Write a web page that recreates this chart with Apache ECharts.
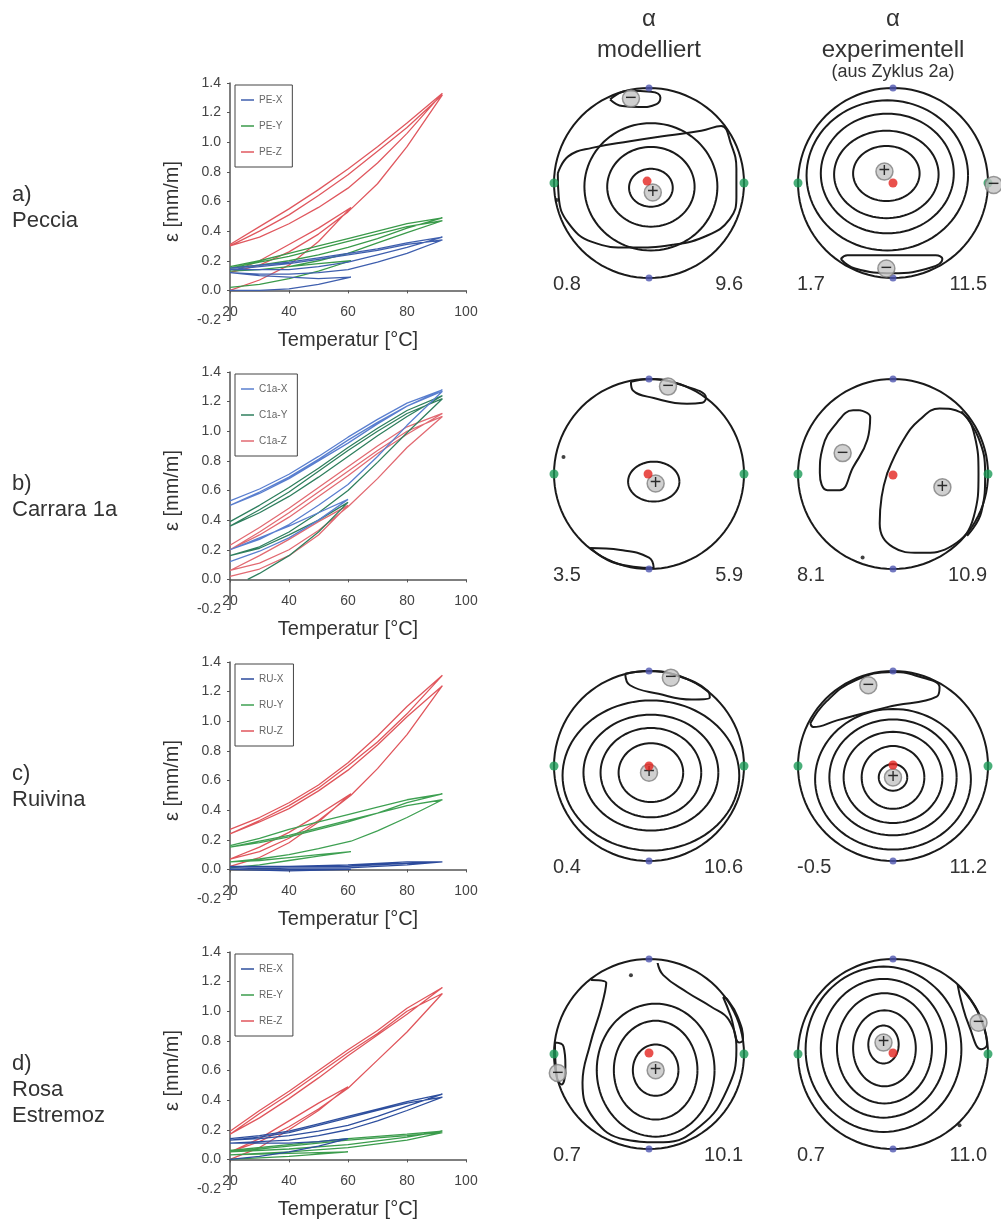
<!DOCTYPE html>
<html>
<head>
<meta charset="utf-8">
<script src="https://cdn.jsdelivr.net/npm/echarts@6.0.0/dist/echarts.min.js"></script>
<style>
html, body { margin: 0; padding: 0; background: #fff; }
#main { width: 1001px; height: 1223px; }
</style>
</head>
<body>
<div id="main"></div>
<script>
// 坐标轴刻度
var tempTicks = [20, 100, 20];      // min, max, interval
var epsTicks = [-0.2, 1.4, 0.2];

// 样品名称
var rowLabels = ['a)\nPeccia', 'b)\nCarrara 1a', 'c)\nRuivina', 'd)\nRosa\nEstremoz'];
var lineNames = [
    ['PE-X', 'PE-Y', 'PE-Z'],
    ['C1a-X', 'C1a-Y', 'C1a-Z'],
    ['RU-X', 'RU-Y', 'RU-Z'],
    ['RE-X', 'RE-Y', 'RE-Z']
];

// a) Peccia  [温度, 应变]
var peX = [
    [20,0.00],[30,0.00],[40,0.01],[50,0.04],[61,0.09],
    [50,0.08],[40,0.09],[30,0.10],[20,0.12],
    [30,0.11],[40,0.11],[50,0.12],[60,0.14],[70,0.19],[80,0.25],[92,0.34],
    [80,0.31],[70,0.27],[60,0.24],[50,0.21],[40,0.18],[30,0.16],[20,0.14],
    [30,0.14],[40,0.14],[50,0.16],[60,0.19],[70,0.24],[80,0.29],[92,0.36],
    [80,0.32],[70,0.28],[60,0.25],[50,0.22],[40,0.19],[30,0.17],[20,0.15]
];
var peY = [
    [20,0.02],[30,0.04],[40,0.08],[50,0.13],[61,0.20],
    [50,0.18],[40,0.16],[30,0.14],[20,0.13],
    [30,0.14],[40,0.16],[50,0.20],[60,0.25],[70,0.32],[80,0.39],[92,0.47],
    [80,0.43],[70,0.38],[60,0.33],[50,0.28],[40,0.23],[30,0.19],[20,0.15],
    [30,0.17],[40,0.20],[50,0.24],[60,0.29],[70,0.35],[80,0.42],[92,0.49],
    [80,0.45],[70,0.40],[60,0.35],[50,0.30],[40,0.25],[30,0.20],[20,0.16]
];
var peZ = [
    [20,0.00],[30,0.07],[40,0.17],[50,0.33],[61,0.56],
    [50,0.42],[40,0.31],[30,0.20],[20,0.12],
    [30,0.17],[40,0.26],[50,0.38],[60,0.53],[70,0.72],[80,0.97],[92,1.32],
    [80,1.10],[70,0.94],[60,0.78],[50,0.64],[40,0.51],[30,0.40],[20,0.30],
    [30,0.36],[40,0.45],[50,0.56],[60,0.69],[70,0.86],[80,1.06],[92,1.33],
    [80,1.13],[70,0.97],[60,0.82],[50,0.68],[40,0.55],[30,0.43],[20,0.31]
];

// b) Carrara 1a
var c1aX = [
    [20,0.12],[30,0.19],[40,0.28],[50,0.40],[60,0.54],
    [50,0.45],[40,0.36],[30,0.28],[20,0.20],
    [30,0.27],[40,0.37],[50,0.50],[60,0.64],[70,0.83],[80,1.04],[92,1.27],
    [80,1.17],[70,1.05],[60,0.92],[50,0.80],[40,0.68],[30,0.58],[20,0.50],
    [30,0.59],[40,0.69],[50,0.81],[60,0.94],[70,1.06],[80,1.17],[92,1.28],
    [80,1.19],[70,1.08],[60,0.96],[50,0.83],[40,0.71],[30,0.61],[20,0.53]
];
var c1aY = [
    [26,0.00],[30,0.04],[40,0.16],[50,0.32],[60,0.52],
    [50,0.40],[40,0.30],[30,0.21],[20,0.16],
    [30,0.22],[40,0.32],[50,0.45],[60,0.60],[70,0.79],[80,0.99],[92,1.22],
    [80,1.12],[70,1.00],[60,0.87],[50,0.73],[40,0.59],[30,0.47],[20,0.36],
    [30,0.45],[40,0.56],[50,0.69],[60,0.83],[70,0.97],[80,1.10],[92,1.24],
    [80,1.14],[70,1.02],[60,0.89],[50,0.75],[40,0.62],[30,0.50],[20,0.39]
];
var c1aZ = [
    [20,0.02],[30,0.07],[40,0.16],[50,0.30],[60,0.50],
    [50,0.39],[40,0.27],[30,0.16],[20,0.06],
    [30,0.11],[40,0.20],[50,0.33],[60,0.49],[70,0.68],[80,0.89],[92,1.10],
    [80,1.00],[70,0.87],[60,0.73],[50,0.59],[40,0.45],[30,0.32],[20,0.20],
    [30,0.30],[40,0.42],[50,0.56],[60,0.70],[70,0.85],[80,0.98],[92,1.12],
    [80,1.03],[70,0.90],[60,0.76],[50,0.62],[40,0.48],[30,0.35],[20,0.23]
];

// c) Ruivina
var ruX = [
    [20,0.00],[40,-0.01],[61,0.00],
    [40,0.00],[20,0.01],
    [40,0.01],[60,0.01],[80,0.03],[92,0.05],
    [80,0.04],[60,0.03],[40,0.02],[20,0.02],
    [40,0.02],[60,0.02],[80,0.04],[92,0.05],
    [80,0.05],[60,0.03],[40,0.02],[20,0.02]
];
var ruY = [
    [20,0.01],[30,0.03],[40,0.06],[50,0.09],[61,0.12],
    [50,0.10],[40,0.08],[30,0.06],[20,0.05],
    [30,0.07],[40,0.10],[50,0.14],[61,0.19],[70,0.26],[80,0.35],[92,0.47],
    [80,0.43],[70,0.38],[60,0.33],[50,0.28],[40,0.23],[30,0.19],[20,0.15],
    [30,0.18],[40,0.22],[50,0.27],[60,0.32],[70,0.38],[80,0.45],[92,0.51],
    [80,0.47],[70,0.42],[60,0.37],[50,0.32],[40,0.27],[30,0.21],[20,0.16]
];
var ruZ = [
    [20,0.02],[30,0.08],[40,0.18],[50,0.32],[61,0.51],
    [50,0.37],[40,0.25],[30,0.15],[20,0.07],
    [30,0.12],[40,0.21],[50,0.33],[61,0.50],[70,0.68],[80,0.91],[92,1.24],
    [80,1.03],[70,0.84],[60,0.67],[50,0.53],[40,0.41],[30,0.32],[20,0.24],
    [30,0.33],[40,0.43],[50,0.55],[60,0.70],[70,0.86],[80,1.05],[92,1.31],
    [80,1.10],[70,0.90],[60,0.72],[50,0.57],[40,0.45],[30,0.35],[20,0.27]
];

// d) Rosa Estremoz
var reX = [
    [20,0.00],[30,0.02],[40,0.05],[50,0.09],[60,0.14],
    [50,0.12],[40,0.11],[30,0.11],[20,0.11],
    [30,0.12],[40,0.13],[50,0.16],[60,0.20],[70,0.26],[80,0.33],[92,0.42],
    [80,0.38],[70,0.33],[60,0.28],[50,0.23],[40,0.18],[30,0.15],[20,0.13],
    [30,0.14],[40,0.16],[50,0.19],[60,0.23],[70,0.29],[80,0.36],[92,0.44],
    [80,0.39],[70,0.34],[60,0.29],[50,0.24],[40,0.19],[30,0.16],[20,0.14]
];
var reY = [
    [20,0.00],[40,0.02],[60,0.05],
    [40,0.04],[20,0.03],
    [40,0.05],[60,0.08],[80,0.13],[92,0.18],
    [80,0.16],[60,0.13],[40,0.09],[20,0.05],
    [40,0.07],[60,0.10],[80,0.15],[92,0.19],
    [80,0.17],[60,0.14],[40,0.10],[20,0.06]
];
var reZ = [
    [20,0.00],[30,0.08],[40,0.20],[50,0.33],[60,0.49],
    [50,0.38],[40,0.26],[30,0.14],[20,0.05],
    [30,0.12],[40,0.22],[50,0.34],[60,0.48],[70,0.67],[80,0.86],[92,1.12],
    [80,1.00],[70,0.85],[60,0.72],[50,0.58],[40,0.44],[30,0.31],[20,0.17],
    [30,0.28],[40,0.41],[50,0.55],[60,0.70],[70,0.84],[80,0.98],[92,1.16],
    [80,1.02],[70,0.87],[60,0.74],[50,0.60],[40,0.46],[30,0.33],[20,0.19]
];

var lineSets = [[peX, peY, peZ], [c1aX, c1aY, c1aZ], [ruX, ruY, ruZ], [reX, reY, reZ]];

// 极图：顺序 a-mod, a-exp, b-mod, b-exp, c-mod, c-exp, d-mod, d-exp（单位圆坐标）
var netRange = [[0.8, 9.6], [1.7, 11.5], [3.5, 5.9], [8.1, 10.9], [0.4, 10.6], [-0.5, 11.2], [0.7, 10.1], [0.7, 11.0]];
var netPolesBlue = [[0, 1], [0, -1]];
var netPolesGreen = [[-1, 0], [1, 0]];
// 等值线椭圆 [cx, cy, rx, ry]
var netRings = [
    [[0.02,-0.05,0.23,0.20],[0.02,-0.04,0.46,0.42],[0.02,-0.04,0.70,0.67]],
    [[-0.07,0.10,0.35,0.29],[-0.07,0.09,0.55,0.46],[-0.06,0.10,0.70,0.63],[-0.06,0.08,0.85,0.79]],
    [[0.05,-0.08,0.27,0.21]],
    [],
    [[0.02,-0.07,0.34,0.31],[0.02,-0.07,0.53,0.47],[0.02,-0.07,0.71,0.61],[0.02,-0.10,0.93,0.79]],
    [[0,-0.12,0.15,0.14],[0,-0.12,0.33,0.33],[0,-0.12,0.52,0.48],[0,-0.12,0.67,0.61],[0,-0.14,0.82,0.74]],
    [[0.07,-0.17,0.24,0.27],[0.07,-0.17,0.44,0.52],[0.07,-0.17,0.62,0.70]],
    [[-0.10,0.10,0.16,0.20],[-0.09,0.06,0.33,0.40],[-0.09,0.06,0.50,0.58],[-0.10,0.06,0.66,0.73],[-0.10,0.05,0.82,0.87]]
];
// 不规则等值线（折线）
var netLoops = [
    [
        [[-0.96,0.1],[-0.85,0.28],[-0.6,0.37],[-0.2,0.44],[0.2,0.5],[0.55,0.55],[0.76,0.6],[0.86,0.42],[0.92,0.15],[0.92,-0.15],[0.85,-0.38],[0.62,-0.55],[0.25,-0.65],[-0.2,-0.68],[-0.6,-0.62],[-0.85,-0.42],[-0.95,-0.15],[-0.96,0.1]],
        [[-0.41,0.88],[-0.28,0.81],[-0.1,0.8],[0.08,0.83],[0.12,0.9],[0.02,0.96],[-0.22,0.97],[-0.41,0.88]]
    ],
    [
        [[-0.55,-0.8],[-0.48,-0.76],[0,-0.76],[0.45,-0.76],[0.52,-0.8],[0.4,-0.89],[0,-0.95],[-0.4,-0.9],[-0.55,-0.8]]
    ],
    [
        [[-0.19,0.97],[-0.17,0.88],[0.05,0.8],[0.4,0.74],[0.56,0.75],[0.6,0.8],[0.3,0.95],[0,1.0],[-0.19,0.97]],
        [[-0.62,-0.78],[-0.3,-0.8],[0.0,-0.88],[0.05,-0.99],[-0.35,-0.94],[-0.62,-0.78]]
    ],
    [
        [[-0.35,0.67],[-0.24,0.6],[-0.27,0.36],[-0.42,0.07],[-0.56,-0.17],[-0.69,-0.17],[-0.77,0.01],[-0.74,0.28],[-0.59,0.54],[-0.42,0.67],[-0.35,0.67]],
        [[-0.06,0.01],[0.11,0.36],[0.28,0.57],[0.49,0.69],[0.71,0.65],[0.86,0.4],[0.9,0.0],[0.85,-0.45],[0.63,-0.75],[0.28,-0.83],[0.0,-0.77],[-0.14,-0.52],[-0.12,-0.24],[-0.06,0.01]],
        [[0.72,0.66],[0.9,0.38],[0.97,0.0],[0.93,-0.4],[0.78,-0.65]]
    ],
    [
        [[-0.25,0.97],[-0.2,0.85],[0.1,0.76],[0.45,0.7],[0.64,0.72],[0.62,0.79],[0.3,0.95],[0,1],[-0.25,0.97]]
    ],
    [
        [[-0.87,0.45],[-0.84,0.41],[-0.59,0.48],[-0.06,0.62],[0.46,0.73],[0.49,0.83],[0.28,0.94],[0,0.99],[-0.4,0.9],[-0.7,0.68],[-0.87,0.45]]
    ],
    [
        [[-0.61,0.78],[-0.45,0.75],[-0.5,0.5],[-0.62,0.1],[-0.7,-0.3],[-0.58,-0.68],[-0.25,-0.9],[0.15,-0.93],[0.55,-0.75],[0.82,-0.38],[0.92,0.05],[0.84,0.36],[0.65,0.5],[0.4,0.65],[0.15,0.83],[0.09,0.96]],
        [[0.78,0.6],[0.86,0.4],[0.95,0.12],[0.99,0.15],[0.93,0.4],[0.82,0.58],[0.78,0.6]],
        [[-0.99,0.12],[-0.9,0.08],[-0.88,-0.12],[-0.92,-0.32],[-0.97,-0.25],[-0.99,0.12]]
    ],
    [
        [[0.68,0.73],[0.72,0.55],[0.8,0.3],[0.93,0.05],[0.99,0.1],[0.95,0.3],[0.85,0.52],[0.68,0.73]]
    ]
];
var netRed = [[[-0.02,0.02]], [[0,0]], [[-0.01,0]], [[0,-0.01]], [[0,0]], [[0,0.01]], [[0,0.01]], [[0,0.01]]];
var netBlack = [[[-0.97,-0.18]], [], [[-0.9,0.18]], [[-0.32,-0.88]], [], [], [[-0.19,0.83]], [[0.7,-0.75]]];
// 灰色标记 [x, y, 符号]
var netMarks = [
    [[0.04,-0.1,'+'],[-0.19,0.89,'-']],
    [[-0.09,0.12,'+'],[-0.07,-0.9,'-'],[1.06,-0.02,'-']],
    [[0.07,-0.1,'+'],[0.2,0.92,'-']],
    [[0.52,-0.14,'+'],[-0.53,0.22,'-']],
    [[0,-0.07,'+'],[0.23,0.93,'-']],
    [[0,-0.12,'+'],[-0.26,0.85,'-']],
    [[0.07,-0.17,'+'],[-0.96,-0.2,'-']],
    [[-0.1,0.12,'+'],[0.9,0.33,'-']]
];

// 布局
var chartTops = [83, 372, 662, 952];
var chartLeft = 230, chartW = 236, chartH = 237;
var netCx = [649, 893];
var netCy = [183, 474, 766, 1054];
var netR = 95;
var lineColors = [
    ['#3f5fae', '#3a9a4a', '#e0585f'],
    ['#5a7fcf', '#2f7f5e', '#e26a72'],
    ['#2b4a9c', '#3ea052', '#e0565c'],
    ['#2e4f9e', '#3b9c4c', '#e0565c']
];
var inkColor = '#1a1a1a';
var fontName = '"Liberation Sans", Arial, sans-serif';

var chartDom = document.getElementById('main');
var myChart = echarts.init(chartDom);

var grids = [], xAxes = [], yAxes = [], legends = [], series = [], texts = [];

// 左侧热膨胀曲线
lineSets.forEach(function(set, i) {
    grids.push({ left: chartLeft, top: chartTops[i], width: chartW, height: chartH, outerBoundsMode: 'none' });
    xAxes.push({
        gridIndex: i, type: 'value', min: tempTicks[0], max: tempTicks[1], interval: tempTicks[2],
        name: 'Temperatur [°C]', nameLocation: 'middle', nameGap: 10,
        nameTextStyle: { fontSize: 20, color: '#333', fontFamily: fontName },
        axisLine: { onZero: true, lineStyle: { color: '#555', width: 1.5 } },
        axisTick: { show: true, length: 3, lineStyle: { color: '#555' } },
        axisLabel: { fontSize: 14, color: '#444', margin: -15, fontFamily: fontName },
        splitLine: { show: false }
    });
    yAxes.push({
        gridIndex: i, type: 'value', min: epsTicks[0], max: epsTicks[1], interval: epsTicks[2],
        name: 'ε [mm/m]', nameLocation: 'middle', nameGap: 48,
        nameTextStyle: { fontSize: 20, color: '#333', fontFamily: fontName },
        axisLine: { show: true, lineStyle: { color: '#555', width: 1.5 } },
        axisTick: { show: true, length: 3, lineStyle: { color: '#555' } },
        axisLabel: { fontSize: 14, color: '#444', margin: 9, fontFamily: fontName,
            formatter: function(v) { return v.toFixed(1); } },
        splitLine: { show: false }
    });
    legends.push({
        orient: 'vertical', left: chartLeft + 5, top: chartTops[i] + 2,
        data: lineNames[i], icon: 'rect', itemWidth: 13, itemHeight: 1.5, itemGap: 16,
        padding: [10, 10, 10, 6], borderColor: '#444', borderWidth: 1,
        textStyle: { fontSize: 10, color: '#666', fontFamily: fontName },
        selectedMode: false
    });
    set.forEach(function(data, j) {
        series.push({
            name: lineNames[i][j], type: 'line', xAxisIndex: i, yAxisIndex: i,
            data: data, symbol: 'none', color: lineColors[i][j],
            lineStyle: { width: 1.3, color: lineColors[i][j] }, z: 3 - j
        });
    });
    texts.push({
        type: 'text', x: 12, y: chartTops[i] + 99,
        style: { text: rowLabels[i], font: '22px ' + fontName, fill: '#333', lineHeight: 26,
            textAlign: 'left', textVerticalAlign: 'top' }
    });
});

// 椭圆等值线
function renderEllipse(params, api) {
    var c = api.coord([api.value(0), api.value(1)]);
    var s = api.size([api.value(2), api.value(3)]);
    var pts = [];
    for (var k = 0; k <= 96; k++) {
        var t = k / 96 * Math.PI * 2;
        pts.push([c[0] + s[0] * Math.cos(t), c[1] + s[1] * Math.sin(t)]);
    }
    return { type: 'polyline', shape: { points: pts }, style: { fill: 'none', stroke: inkColor, lineWidth: 2 } };
}

// 右侧极图
netRange.forEach(function(range, k) {
    var g = 4 + k;
    var cx = netCx[k % 2], cy = netCy[Math.floor(k / 2)];
    grids.push({ left: cx - netR, top: cy - netR, width: netR * 2, height: netR * 2, outerBoundsMode: 'none' });
    xAxes.push({ gridIndex: g, type: 'value', min: -1, max: 1, show: false });
    yAxes.push({ gridIndex: g, type: 'value', min: -1, max: 1, show: false });

    series.push({
        type: 'custom', xAxisIndex: g, yAxisIndex: g, clip: false, silent: true,
        renderItem: renderEllipse,
        data: [[0, 0, 1, 1]].concat(netRings[k]), z: 2
    });
    netLoops[k].forEach(function(loop) {
        series.push({
            type: 'line', xAxisIndex: g, yAxisIndex: g, data: loop, symbol: 'none',
            smooth: 0.45, clip: false, lineStyle: { color: inkColor, width: 2 }, z: 2
        });
    });
    series.push({
        type: 'scatter', xAxisIndex: g, yAxisIndex: g, data: netPolesBlue, clip: false,
        symbolSize: 7, itemStyle: { color: '#4f56b0' }, z: 4
    });
    series.push({
        type: 'scatter', xAxisIndex: g, yAxisIndex: g, data: netPolesGreen, clip: false,
        symbolSize: 9, itemStyle: { color: '#1c9a58' }, z: 4
    });
    series.push({
        type: 'scatter', xAxisIndex: g, yAxisIndex: g, data: netBlack[k], clip: false,
        symbolSize: 4, itemStyle: { color: '#111' }, z: 4
    });
    series.push({
        type: 'scatter', xAxisIndex: g, yAxisIndex: g, data: netMarks[k], clip: false,
        symbolSize: 17, itemStyle: { color: '#c4c4c4', borderColor: '#808080', borderWidth: 1.5 },
        label: {
            show: true, position: 'inside', color: '#000', fontFamily: fontName,
            formatter: function(p) { return p.value[2] === '+' ? '+' : '−'; },
            fontSize: 20
        }, z: 5
    });
    series.push({
        type: 'scatter', xAxisIndex: g, yAxisIndex: g, data: netRed[k], clip: false,
        symbolSize: 9, itemStyle: { color: '#e3241f' }, z: 6
    });

    texts.push({
        type: 'text', x: cx - netR - 1, y: cy + netR + 6,
        style: { text: range[0].toFixed(1), font: '20px ' + fontName, fill: '#333',
            textAlign: 'left', textVerticalAlign: 'middle' }
    });
    texts.push({
        type: 'text', x: cx + netR - 1, y: cy + netR + 6,
        style: { text: range[1].toFixed(1), font: '20px ' + fontName, fill: '#333',
            textAlign: 'right', textVerticalAlign: 'middle' }
    });
});

// 列标题
[['modelliert', ''], ['experimentell', '(aus Zyklus 2a)']].forEach(function(h, c) {
    texts.push({ type: 'text', x: netCx[c], y: 19,
        style: { text: 'α', font: '24px ' + fontName, fill: '#333', textAlign: 'center', textVerticalAlign: 'middle' } });
    texts.push({ type: 'text', x: netCx[c], y: 50,
        style: { text: h[0], font: '24px ' + fontName, fill: '#333', textAlign: 'center', textVerticalAlign: 'middle' } });
    if (h[1]) {
        texts.push({ type: 'text', x: netCx[c], y: 72,
            style: { text: h[1], font: '18px ' + fontName, fill: '#333', textAlign: 'center', textVerticalAlign: 'middle' } });
    }
});

var option = {
    animation: false,
    backgroundColor: '#fff',
    textStyle: { fontFamily: fontName },
    grid: grids,
    xAxis: xAxes,
    yAxis: yAxes,
    legend: legends,
    series: series,
    graphic: texts
};

myChart.setOption(option);

window.addEventListener('resize', function() {
    myChart.resize();
});
</script>
</body>
</html>
